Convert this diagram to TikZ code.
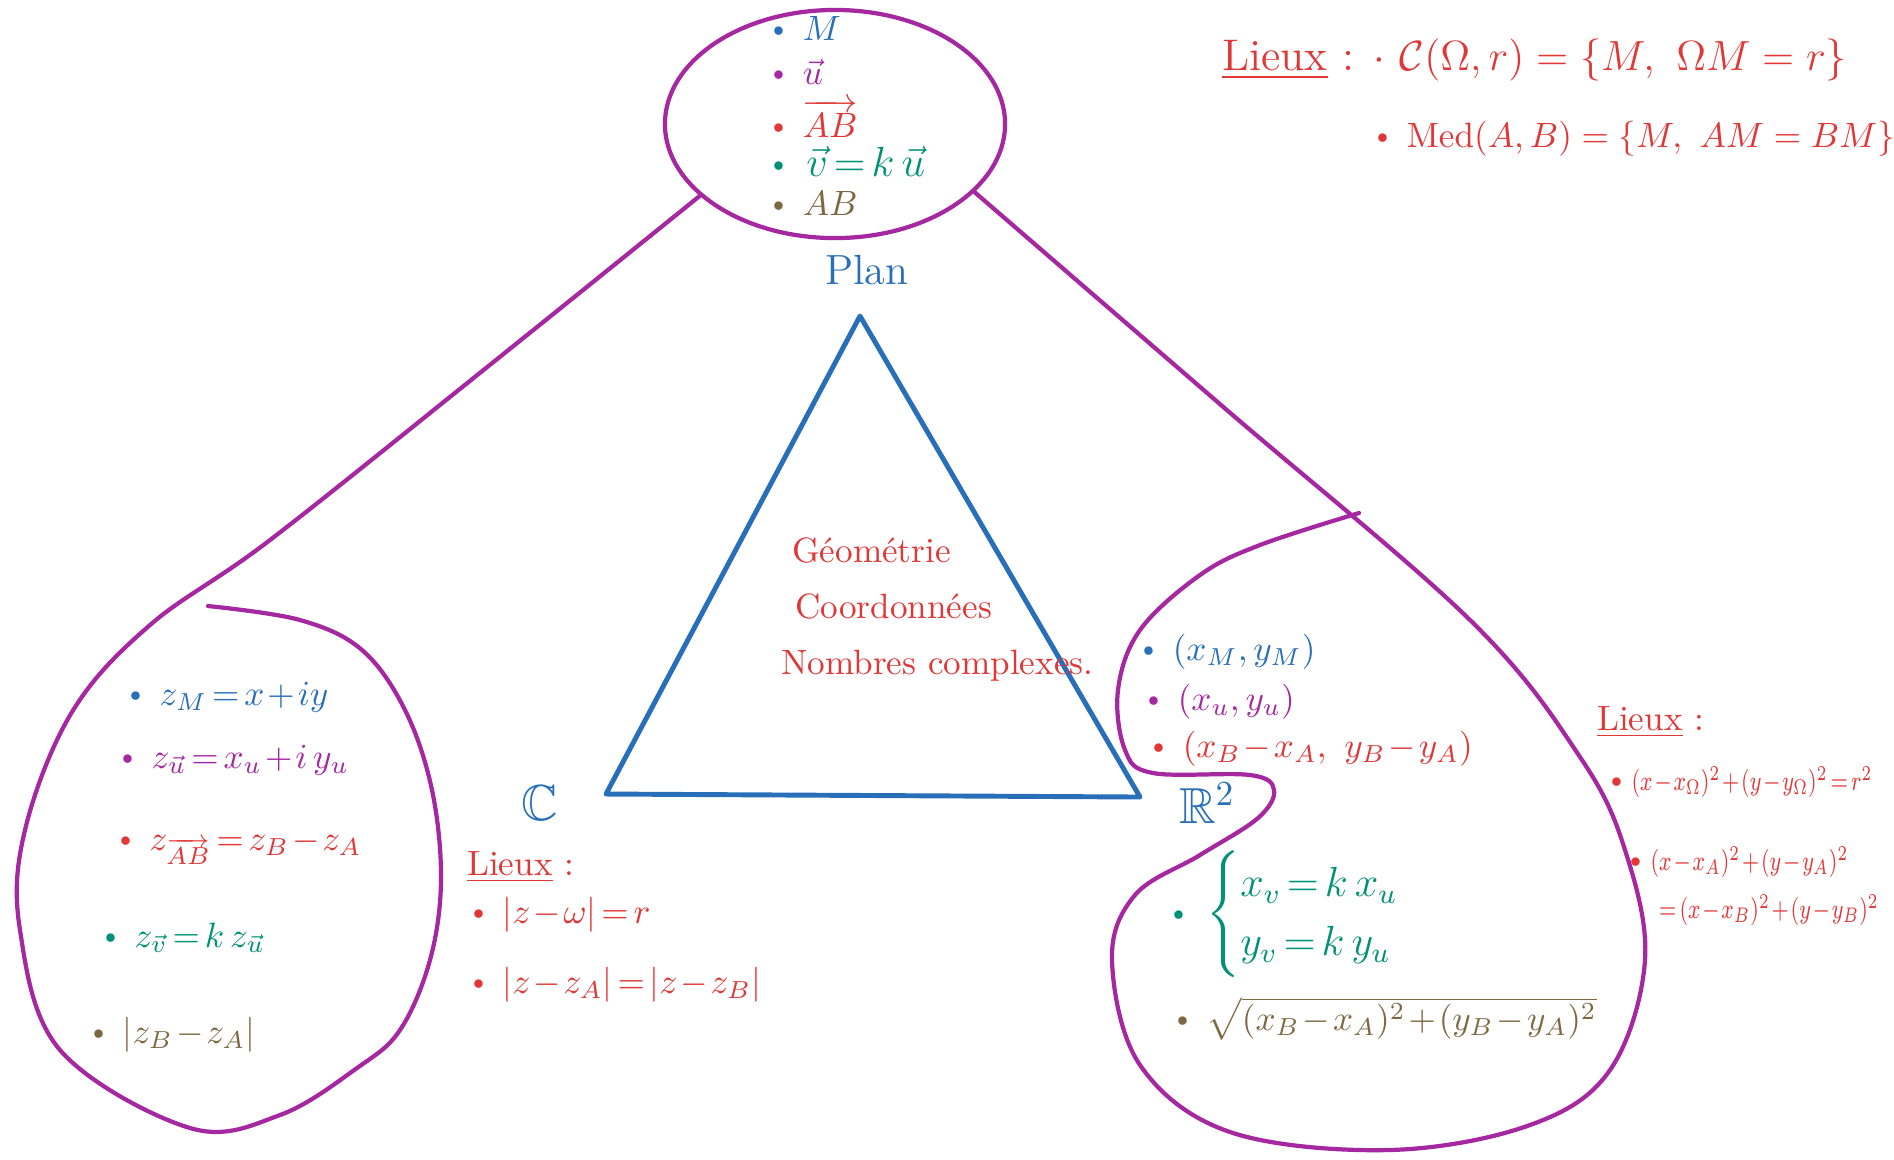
\documentclass[tikz,border=0pt]{standalone}
\usepackage{amsmath,amssymb}
\usepackage{tikz}
\usetikzlibrary{shapes.geometric, calc}
\definecolor{traitviolet}{RGB}{165, 40, 160}
\definecolor{encrebleue}{RGB}{40, 110, 185}
\definecolor{encrerouge}{RGB}{225, 55, 55}
\definecolor{encreverte}{RGB}{0, 145, 120}
\definecolor{encrebrune}{RGB}{125, 105, 65}
\newcommand{\puce}{\raisebox{0.3ex}{\tiny$\bullet$}\hspace{0.5em}}
\newcommand{\serre}{\thickmuskip=2.5mu plus 1mu\medmuskip=1.5mu plus 1mu}
\newcommand{\etroit}[1]{\scalebox{0.74}[1]{#1}}
\tikzset{
  cadre/.style={
    draw=traitviolet,
    line width=1.2pt,
    line join=round,
    line cap=round
  },
  bulle/.style={
    ellipse,
    cadre,
    minimum width=3.4cm,
    minimum height=2.28cm,
    inner sep=0pt
  },
  cote/.style={
    draw=encrebleue,
    line width=1.4pt,
    line join=round
  },
  item/.style={
    anchor=base west,
    inner sep=1pt,
    font=\normalsize\serre
  },
  ensemble/.style={
    inner sep=1pt,
    font=\Large,
    text=encrebleue
  }
}

\begin{document}
\begin{tikzpicture}[x=0.01cm, y=-0.01cm]
          \useasboundingbox (0,0) rectangle (1894,1159);
          \node[bulle] (plan) at (835,124) {};
          \node[ensemble, font=\large] (nomplan) at (867,270) {Plan};
          \node[ensemble] (nomc) at (540,803) {$\mathbb{C}$};
          \node[ensemble] (nomr) at (1207,803) {$\mathbb{R}^2$};

          \coordinate (sommet) at (860,316);
          \coordinate (gauche) at (606,794);
          \coordinate (droite) at (1140,797);
          \draw[cote] (sommet) -- (gauche) -- (droite) -- cycle;

          \draw[cadre] plot[smooth, tension=0.6] coordinates {(plan.208) (486,368) (270,540) (150,625) (72,712) (25,830) (20,930) (60,1050) (190,1128) (280,1115) (357,1068) (400,1030) (430,960) (441,880) (432,790) (405,710) (362,650) (300,620) (208,606)};
          \draw[cadre] plot[smooth, tension=0.6] coordinates {(plan.334) (1221,405) (1470,620) (1580,757) (1625,850) (1645,960) (1610,1070) (1530,1125) (1389,1150) (1230,1132) (1140,1065) (1112,960) (1135,895) (1200,855) (1258,818) (1274,790) (1250,775) (1153,773) (1125,750) (1118,690) (1140,630) (1200,575) (1260,545) (1359,513)};

          \node[item, text=encrebleue] (pm) at (768,40) {\puce $M$};
          \node[item, text=traitviolet] (pu) at (768,84) {\puce $\vec{u}$};
          \node[item, text=encrerouge] (pab) at (768,137) {\puce $\overrightarrow{AB}$};
          \node[item, text=encreverte, font=\large\serre] (pv) at (768,176) {\puce $\vec{v} = k\,\vec{u}$};
          \node[item, text=encrebrune] (pd) at (768,215) {\puce $AB$};

          \node[item, text=encrerouge] (geo) at (788,562) {Géométrie};
          \node[item, text=encrerouge] (coord) at (791,618) {Coordonnées};
          \node[item, text=encrerouge] (cplx) at (777,674) {Nombres complexes.};

          \node[item, text=encrebleue] (cm) at (125,705) {\puce $z_M = x + iy$};
          \node[item, text=traitviolet] (cu) at (117,768) {\puce $z_{\vec{u}} = x_u + i\,y_u$};
          \node[item, text=encrerouge] (cab) at (115,850) {\puce $z_{\overrightarrow{AB}} = z_B - z_A$};
          \node[item, text=encreverte] (cv) at (100,947) {\puce $z_{\vec{v}} = k\,z_{\vec{u}}$};
          \node[item, text=encrebrune] (cd) at (88,1043) {\puce $|z_B - z_A|$};

          \node[item, text=encrerouge] (lieuxc) at (463,875) {\underline{Lieux} :};
          \node[item, text=encrerouge] (cercc) at (468,923) {\puce $|z - \omega| = r$};
          \node[item, text=encrerouge] (medc) at (468,993) {\puce $|z - z_A| = |z - z_B|$};

          \node[item, text=encrebleue] (rm) at (1138,660) {\puce $(x_M, y_M)$};
          \node[item, text=traitviolet] (ru) at (1143,710) {\puce $(x_u, y_u)$};
          \node[item, text=encrerouge] (rab) at (1148,757) {\puce $(x_B - x_A,\ y_B - y_A)$};
          \node[item, text=encreverte, font=\large\serre] (rv) at (1168,925) {\puce $\begin{cases} x_v = k\,x_u \\ y_v = k\,y_u \end{cases}$};
          \node[item, text=encrebrune] (rd) at (1172,1030) {\puce $\sqrt{(x_B - x_A)^2 + (y_B - y_A)^2}$};

          \node[item, text=encrerouge] (lieuxr) at (1593,730) {\underline{Lieux} :};
          \node[item, text=encrerouge, font=\footnotesize\serre] (cercr) at (1606,790) {\puce\hspace{-0.2em}\etroit{$(x - x_\Omega)^2 + (y - y_\Omega)^2 = r^2$}};
          \node[item, text=encrerouge, font=\footnotesize\serre] (medr) at (1625,870) {\puce\hspace{-0.2em}\etroit{$(x - x_A)^2 + (y - y_A)^2$}};
          \node[item, text=encrerouge, font=\footnotesize\serre] (medr2) at (1655,918) {\etroit{$= (x - x_B)^2 + (y - y_B)^2$}};

          \node[item, text=encrerouge, font=\fontsize{12.6}{15}\selectfont] (lieuxp) at (1218,70) {\underline{Lieux} : $\cdot$ $\mathcal{C}(\Omega, r) = \{M,\ \Omega M = r\}$};
          \node[item, text=encrerouge, font=\normalsize] (medp) at (1372,147) {\puce $\mathrm{Med}(A,B) = \{M,\ AM = BM\}$};
        \end{tikzpicture}
\end{document}
